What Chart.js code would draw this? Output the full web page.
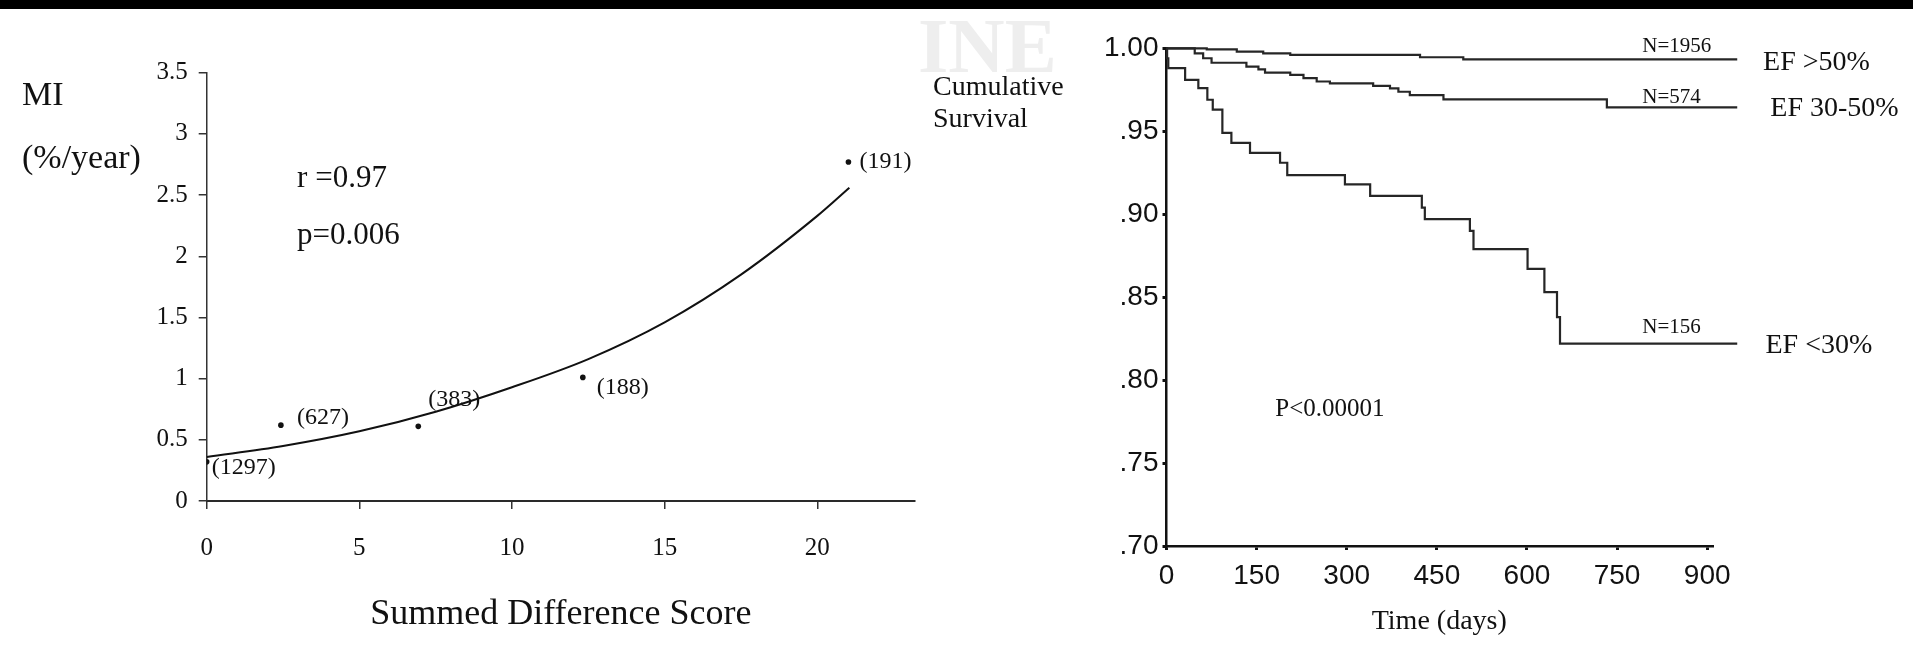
<!DOCTYPE html>
<html>
<head>
<meta charset="utf-8">
<script src="https://cdn.jsdelivr.net/npm/chart.js@4.4.1/dist/chart.umd.min.js"></script>
<style>
  html, body { margin: 0; padding: 0; background: #fff; }
  #wrap { position: relative; width: 1913px; height: 655px; overflow: hidden; background: #fff; }
  #wrap canvas { position: absolute; left: 0; top: 0; }
  #band { position: absolute; left: 0; top: 0; width: 1913px; height: 9px; background: #000; }
</style>
</head>
<body>
<div id="wrap">
  <canvas id="miChart" width="1913" height="655"></canvas>
  <canvas id="kmChart" width="1913" height="655"></canvas>
  <div id="band"></div>
</div>
<script>
// ---- Left panel: MI rate against summed difference score ----
const sdsScores   = [0, 2.43, 6.93, 12.32, 21.02];
const miRates     = [0.32, 0.62, 0.61, 1.01, 2.77];
const groupSizes  = ['(1297)', '(627)', '(383)', '(188)', '(191)'];
const fitScores   = [0, 2.5, 5, 7.5, 10, 12.5, 15, 17.5, 20, 21.05];
const fitRates    = [0.36, 0.45, 0.57, 0.73, 0.93, 1.16, 1.46, 1.85, 2.33, 2.56];
const sdsTicks      = [0, 5, 10, 15, 20];
const sdsTickLabels = ['0', '5', '10', '15', '20'];
const miTicks       = [0, 0.5, 1, 1.5, 2, 2.5, 3, 3.5];
const miTickLabels  = ['0', '0.5', '1', '1.5', '2', '2.5', '3', '3.5'];
const fitStats      = ['r =0.97', 'p=0.006'];

// ---- Right panel: cumulative survival by ejection fraction ----
const efHighDays = [0, 67, 117, 161, 206, 422, 494, 950];
const efHighSurv = [1.000, 0.9994, 0.998, 0.997, 0.996, 0.9946, 0.9933, 0.9933];
const efMidDays  = [0, 47, 61, 75, 133, 153, 164, 206, 228, 250, 272, 344, 372, 386, 405, 461, 733, 950];
const efMidSurv  = [1.000, 0.997, 0.994, 0.9913, 0.989, 0.9873, 0.9853, 0.984, 0.982, 0.980, 0.9789,
                    0.9774, 0.9758, 0.9738, 0.9718, 0.9692, 0.9644, 0.9644];
const efLowDays  = [0, 1, 3, 31, 53, 68, 77, 93, 108, 139, 189, 201, 297, 339, 425, 430, 505, 511,
                    601, 629, 650, 655, 950];
const efLowSurv  = [1.000, 0.994, 0.988, 0.981, 0.976, 0.969, 0.963, 0.949, 0.943, 0.937, 0.931, 0.9235,
                    0.918, 0.911, 0.904, 0.897, 0.890, 0.879, 0.867, 0.853, 0.838, 0.822, 0.822];
const timeTicks       = [0, 150, 300, 450, 600, 750, 900];
const timeTickLabels  = ['0', '150', '300', '450', '600', '750', '900'];
const survTicks       = [0.70, 0.75, 0.80, 0.85, 0.90, 0.95, 1.00];
const survTickLabels  = ['.70', '.75', '.80', '.85', '.90', '.95', '1.00'];
const efGroupNames    = ['EF >50%', 'EF 30-50%', 'EF <30%'];
const efGroupCounts   = ['N=1956', 'N=574', 'N=156'];
const logRankText     = 'P<0.00001';

const SERIF = '"Liberation Serif", "Times New Roman", serif';
const SANS  = '"Liberation Sans", Arial, sans-serif';
const INK   = '#111';

function pts(xs, ys) { return xs.map((x, i) => ({ x, y: ys[i] })); }
function fixedTicks(values) { return scale => { scale.ticks = values.map(v => ({ value: v })); }; }
function labelFor(values, labels) { return v => labels[values.findIndex(t => Math.abs(t - v) < 1e-9)]; }

function text(ctx, str, x, y, size, opts = {}) {
  ctx.save();
  ctx.font = `${opts.weight || 'normal'} ${size}px ${opts.family || SERIF}`;
  ctx.fillStyle = opts.color || INK;
  ctx.textAlign = opts.align || 'left';
  ctx.textBaseline = opts.baseline || 'alphabetic';
  ctx.fillText(str, x, y);
  ctx.restore();
}

// label placement for the group sizes next to each point (pixel nudges)
const sizeLabelNudge = [[5, 6], [16, -7], [10, -27], [14, 10], [11, 0]];

const miLabels = {
  id: 'miLabels',
  afterDatasetsDraw(chart) {
    const { ctx, scales: { x, y } } = chart;
    text(ctx, 'MI', 22, 105, 34);
    text(ctx, '(%/year)', 22, 168, 34);
    text(ctx, fitStats[0], x.getPixelForValue(2.96), y.getPixelForValue(2.57), 31);
    text(ctx, fitStats[1], x.getPixelForValue(2.96), y.getPixelForValue(2.10), 31);
    groupSizes.forEach((lab, i) => {
      const px = x.getPixelForValue(sdsScores[i]) + sizeLabelNudge[i][0];
      const py = y.getPixelForValue(miRates[i]) + sizeLabelNudge[i][1];
      text(ctx, lab, px, py, 24, { baseline: 'middle' });
    });
  }
};

new Chart(document.getElementById('miChart'), {
  type: 'line',
  data: {
    datasets: [
      { data: pts(fitScores, fitRates), borderColor: INK, borderWidth: 2, pointRadius: 0,
        cubicInterpolationMode: 'monotone', fill: false },
      { data: pts(sdsScores, miRates), showLine: false, pointRadius: 2.8,
        pointBackgroundColor: INK, pointBorderWidth: 0 }
    ]
  },
  options: {
    responsive: false, animation: false, devicePixelRatio: 1,
    layout: { padding: { left: 146.7, top: 72.7, right: 998, bottom: 18.4 } },
    plugins: { legend: { display: false }, tooltip: { enabled: false } },
    scales: {
      x: {
        type: 'linear', min: 0, max: 23.2,
        afterBuildTicks: fixedTicks(sdsTicks),
        afterFit: s => { s.height = 135.6; },
        grid: { display: true, drawOnChartArea: false, drawTicks: true, tickLength: 8, color: '#333', lineWidth: 1.5 },
        border: { display: true, color: '#2a2a2a', width: 2 },
        ticks: { autoSkip: false, maxRotation: 0, padding: 24, color: INK,
                 font: { family: SERIF, size: 25 }, callback: labelFor(sdsTicks, sdsTickLabels) },
        title: { display: true, text: 'Summed Difference Score', color: INK,
                 font: { family: SERIF, size: 36 }, padding: { top: 0, bottom: 0 } }
      },
      y: {
        type: 'linear', min: 0, max: 3.5,
        afterBuildTicks: fixedTicks(miTicks),
        afterFit: s => { s.width = 60; },
        grid: { display: true, drawOnChartArea: false, drawTicks: true, tickLength: 8, color: '#333', lineWidth: 1.5 },
        border: { display: true, color: '#333', width: 1.5 },
        ticks: { autoSkip: false, padding: 11, color: INK,
                 font: { family: SERIF, size: 25 }, callback: labelFor(miTicks, miTickLabels) }
      }
    }
  },
  plugins: [miLabels]
});

// where the group labels sit at the right end of each curve (days, pixel nudge)
const countLabelDay = 792;
const countLabelNudge = [-7.5, -4.5, -11];
const groupLabelDay = [993, 1005, 997];
const groupLabelNudge = [10.5, 9, 9];

const kmLabels = {
  id: 'kmLabels',
  beforeDraw(chart) {
    const { ctx } = chart;
    // faint publisher mark behind the plot
    text(ctx, 'INE', 918, 72, 78, { weight: 'bold', color: '#eeeeee' });
  },
  afterDatasetsDraw(chart) {
    const { ctx, scales: { x, y } } = chart;
    text(ctx, 'Cumulative', 933, 95, 28);
    text(ctx, 'Survival', 933, 127, 28);
    const ends = [efHighSurv, efMidSurv, efLowSurv].map(a => a[a.length - 1]);
    ends.forEach((s, i) => {
      const py = y.getPixelForValue(s);
      text(ctx, efGroupCounts[i], x.getPixelForValue(countLabelDay), py + countLabelNudge[i], 21);
      text(ctx, efGroupNames[i], x.getPixelForValue(groupLabelDay[i]), py + groupLabelNudge[i], 28);
    });
    text(ctx, logRankText, x.getPixelForValue(181), y.getPixelForValue(0.7785), 25);
  }
};

const stepStyle = { borderColor: '#262626', borderWidth: 2.2, pointRadius: 0, stepped: true, fill: false, clip: false };

new Chart(document.getElementById('kmChart'), {
  type: 'line',
  data: {
    datasets: [
      Object.assign({ label: efGroupNames[0], data: pts(efHighDays, efHighSurv) }, stepStyle),
      Object.assign({ label: efGroupNames[1], data: pts(efMidDays, efMidSurv) }, stepStyle),
      Object.assign({ label: efGroupNames[2], data: pts(efLowDays, efLowSurv) }, stepStyle)
    ]
  },
  options: {
    responsive: false, animation: false, devicePixelRatio: 1,
    layout: { padding: { left: 1066.5, top: 48.3, right: 201, bottom: 16.2 } },
    plugins: { legend: { display: false }, tooltip: { enabled: false } },
    scales: {
      x: {
        type: 'linear', min: 0, max: 908,
        afterBuildTicks: fixedTicks(timeTicks),
        afterFit: s => { s.height = 92.8; },
        grid: { display: true, drawOnChartArea: false, drawTicks: true, tickLength: 4, color: '#111', lineWidth: 3 },
        border: { display: true, color: '#111', width: 2.5 },
        ticks: { autoSkip: false, maxRotation: 0, padding: 9.2, color: INK,
                 font: { family: SANS, size: 28 }, callback: labelFor(timeTicks, timeTickLabels) },
        title: { display: true, text: 'Time (days)', color: INK,
                 font: { family: SERIF, size: 28 }, padding: { top: 0, bottom: 0 } }
      },
      y: {
        type: 'linear', min: 0.70, max: 1.00,
        afterBuildTicks: fixedTicks(survTicks),
        afterFit: s => { s.width = 100; },
        grid: { display: true, drawOnChartArea: false, drawTicks: true, tickLength: 4, color: '#111', lineWidth: 3 },
        border: { display: true, color: '#111', width: 2.5 },
        ticks: { autoSkip: false, padding: 4, color: INK,
                 font: { family: SANS, size: 28 }, callback: labelFor(survTicks, survTickLabels) }
      }
    }
  },
  plugins: [kmLabels]
});
</script>
</body>
</html>
